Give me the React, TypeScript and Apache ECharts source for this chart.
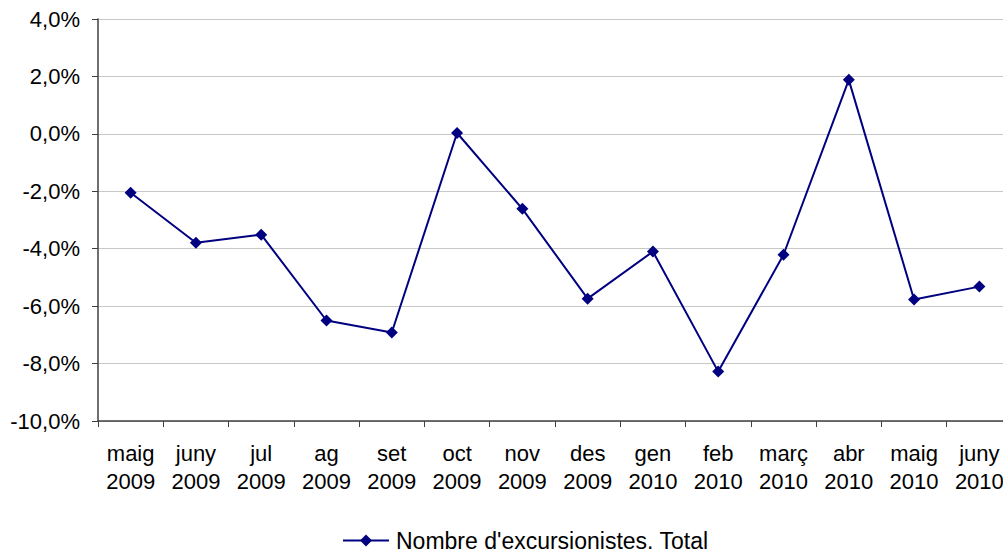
import React, { useEffect, useRef } from "react";
import * as echarts from "echarts";

const categories = [
  "maig\n2009", "juny\n2009", "jul\n2009", "ag\n2009", "set\n2009", "oct\n2009", "nov\n2009",
  "des\n2009", "gen\n2010", "feb\n2010", "març\n2010", "abr\n2010", "maig\n2010", "juny\n2010",
];
const values = [-2.05, -3.79, -3.51, -6.5, -6.92, 0.03, -2.61, -5.74, -4.1, -8.28, -4.21, 1.88, -5.77, -5.32];
const seriesName = "Nombre d'excursionistes. Total";

export default function App() {
  const ref = useRef<HTMLDivElement>(null);
  useEffect(() => {
    if (!ref.current) return;
    const chart = echarts.init(ref.current, null, { renderer: "svg" });
    const font = "'Liberation Sans', Arial, sans-serif";
    chart.setOption({
      animation: false,
      backgroundColor: "#ffffff",
      grid: { left: 98, top: 19, right: 0, bottom: 133, containLabel: false },
      legend: {
        data: [seriesName],
        left: 342,
        top: 529,
        padding: 0,
        itemWidth: 46,
        itemHeight: 15,
        itemGap: 6,
        textStyle: { fontFamily: font, fontSize: 23, color: "#000", padding: [0, 0, 0, 2] },
      },
      xAxis: {
        type: "category",
        data: categories,
        boundaryGap: true,
        axisLine: { onZero: false, lineStyle: { color: "#404040", width: 1.5 } },
        axisTick: { show: true, inside: false, length: 6, alignWithLabel: false, interval: 0, lineStyle: { color: "#404040" } },
        axisLabel: { fontFamily: font, fontSize: 22, color: "#000", lineHeight: 28, margin: 18, interval: 0 },
        splitLine: { show: false },
      },
      yAxis: {
        type: "value",
        min: -10,
        max: 4,
        interval: 2,
        axisLine: { show: true, lineStyle: { color: "#404040", width: 1.5 } },
        axisTick: { show: true, inside: false, length: 6, lineStyle: { color: "#404040" } },
        axisLabel: {
          fontFamily: font,
          fontSize: 22,
          color: "#000",
          margin: 18,
          formatter: (v: number) => v.toFixed(1).replace(".", ",") + "%",
        },
        splitLine: { show: true, lineStyle: { color: "#c8c8c8", width: 1 } },
      },
      series: [
        {
          name: seriesName,
          type: "line",
          data: values,
          symbol: "diamond",
          symbolSize: 12,
          lineStyle: { color: "#000080", width: 2 },
          itemStyle: { color: "#000080" },
        },
      ],
    });
    return () => chart.dispose();
  }, []);
  return (
    <div style={{ position: "fixed", left: 0, top: 0, width: 1003, height: 554, overflow: "hidden", background: "#fff" }}>
      <div ref={ref} style={{ position: "absolute", left: 0, top: 0, width: 1012, height: 554 }} />
    </div>
  );
}
